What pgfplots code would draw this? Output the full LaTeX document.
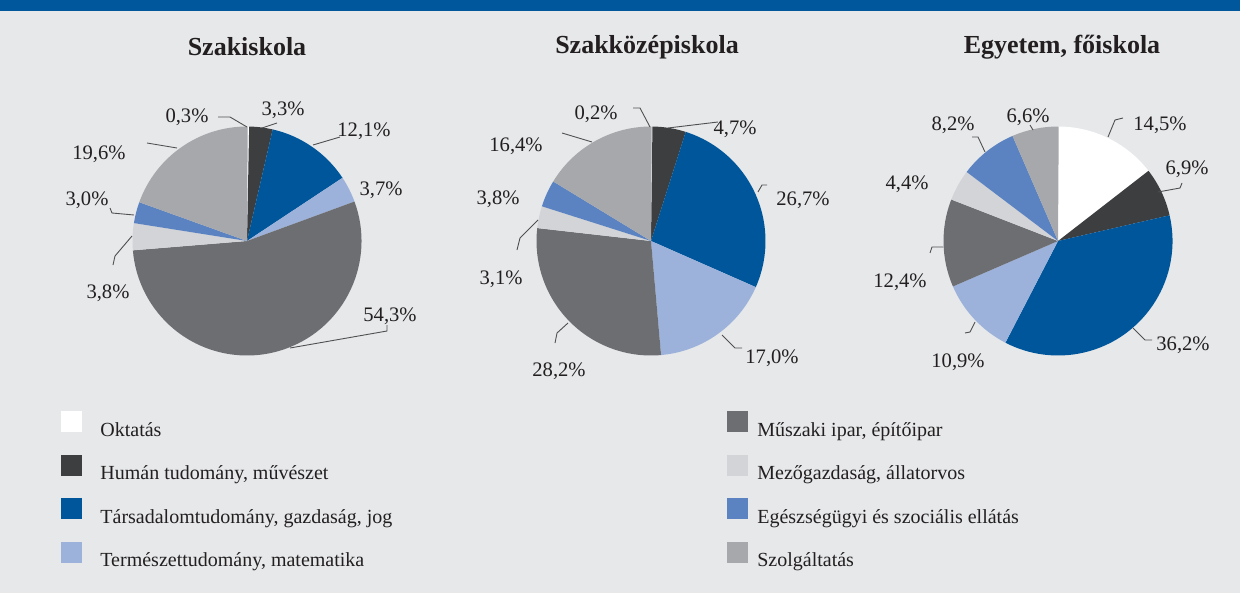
\documentclass[border=0pt]{standalone}
\usepackage{pgfplots}
\usepackage{pgfplotstable}
\pgfplotsset{compat=1.18}
\usepackage{fontspec}
\setmainfont{Liberation Serif}

\definecolor{bg}{HTML}{E6E8EA}
\definecolor{band}{HTML}{00579B}
\definecolor{cOkt}{HTML}{FFFFFF}
\definecolor{cHum}{HTML}{3D3E40}
\definecolor{cTar}{HTML}{00569B}
\definecolor{cTer}{HTML}{9DB2DA}
\definecolor{cMus}{HTML}{6C6E71}
\definecolor{cMez}{HTML}{D2D4D7}
\definecolor{cEgs}{HTML}{5B82C1}
\definecolor{cSzo}{HTML}{A6A8AB}
\definecolor{txt}{HTML}{231F20}
\definecolor{lead}{HTML}{505050}

% rows: Oktatás, Humán, Társadalom, Természet, Műszaki, Mezőgazd., Egészségügy, Szolgáltatás
% val = share in %, (lx,ly) = label centre in px, p1..p3 = leader line in px, ld = leader drawn
\pgfplotstableread{
val   lx   ly  p1x p1y p2x p2y p3x p3y ld
0.3  187  117  247 127 230 117 218 117 1
3.3  283  110  262 128 277 123 277 123 1
12.1 364  131  313 145 340 137 340 137 1
3.7  381  190  0   0   0   0   0   0   0
54.3 390  316  290 348 387 331 387 325 1
3.8  108  293  132 236 115 256 113 265 1
3.0   87  200  134 215 112 213 110 208 1
19.6  99  154  177 148 147 143 147 143 1
}\pieA
\pgfplotstableread{
val   lx   ly  p1x p1y p2x p2y p3x p3y ld
0.2  596  114  650 127 640 108 633 108 1
4.7  735  129  668 128 718 122 718 122 1
26.7 803  200  758 192 762 185 767 185 1
17.0 772  358  722 335 735 348 742 348 1
28.2 559  371  568 323 557 333 555 343 1
3.1  501  279  538 220 520 238 517 250 1
3.8  498  199  0   0   0   0   0   0   0
16.4 516  146  592 142 562 133 562 133 1
}\pieB
\pgfplotstableread{
val   lx   ly  p1x  p1y p2x  p2y p3x  p3y ld
14.5 1160 125  1108 137 1115 120 1123 118 1
6.9  1187 169  1158 192 1180 188 1182 183 1
36.2 1183 345  1133 328 1145 340 1152 340 1
10.9  958 362   975 322  970 332  965 333 1
12.4  900 282   943 247  932 247  930 253 1
4.4   907 184     0   0    0   0    0   0 0
8.2   953 125   985 152  978 137  972 137 1
6.6  1028 117  1033 130 1030 125 1030 125 1
}\pieC

\newcommand\drawpie[3]{% table, centre x, centre y (px)
  \def\cum{90}%
  \pgfplotsforeachungrouped \i in {0,...,7}{%
    \pgfplotstablegetelem{\i}{val}\of{#1}\let\v\pgfplotsretval
    \pgfmathsetmacro\aS{\cum}%
    \pgfmathsetmacro\aE{\cum-3.6*\v}%
    \pgfmathsetmacro\ex{#2+114.5*cos(\aS)}%
    \pgfmathsetmacro\ey{#3-114.5*sin(\aS)}%
    \edef\cn{\ifcase\i cOkt\or cHum\or cTar\or cTer\or cMus\or cMez\or cEgs\or cSzo\fi}%
    \edef\doit{\noexpand\fill[\cn] (axis cs:#2,#3) -- (axis cs:\ex,\ey)
      arc[start angle=\aS, end angle=\aE, radius=57.25pt] -- cycle;}%
    \doit
    \let\cum\aE
  }%
  \pgfplotsforeachungrouped \i in {0,...,7}{%
    \pgfplotstablegetelem{\i}{val}\of{#1}\let\v\pgfplotsretval
    \pgfplotstablegetelem{\i}{lx}\of{#1}\let\lx\pgfplotsretval
    \pgfplotstablegetelem{\i}{ly}\of{#1}\let\ly\pgfplotsretval
    \edef\doit{\noexpand\node[text=txt, font=\noexpand\lab] at (axis cs:\lx,\ly)
      {\noexpand\pgfmathprintnumber[fixed, fixed zerofill, precision=1, use comma,
        assume math mode=true]{\v}\noexpand\%};}%
    \doit
    \pgfplotstablegetelem{\i}{ld}\of{#1}\let\ld\pgfplotsretval
    \ifnum\ld=1
      \pgfplotstablegetelem{\i}{p1x}\of{#1}\let\ax\pgfplotsretval
      \pgfplotstablegetelem{\i}{p1y}\of{#1}\let\ay\pgfplotsretval
      \pgfplotstablegetelem{\i}{p2x}\of{#1}\let\bx\pgfplotsretval
      \pgfplotstablegetelem{\i}{p2y}\of{#1}\let\by\pgfplotsretval
      \pgfplotstablegetelem{\i}{p3x}\of{#1}\let\qx\pgfplotsretval
      \pgfplotstablegetelem{\i}{p3y}\of{#1}\let\qy\pgfplotsretval
      \edef\doit{\noexpand\draw[lead, line width=0.45pt] (axis cs:\ax,\ay) -- (axis cs:\bx,\by) -- (axis cs:\qx,\qy);}%
      \doit
    \fi
  }%
}
\newcommand\lab{\fontsize{10.3}{12}\selectfont}
\newcommand\ttl{\fontsize{13}{15}\selectfont\bfseries}

\begin{document}
\begin{tikzpicture}
\begin{axis}[
  x=0.5pt, y=0.5pt,
  xmin=0, xmax=1240, ymin=0, ymax=593,
  y dir=reverse,
  hide axis,
  clip=false,
  legend columns=2,
  legend cell align=left,
  legend image code/.code={\fill[#1, draw=none] (0pt,2pt) rectangle (10.5pt,12.5pt);
                           \path[draw=none, fill=none] (0pt,-3pt) rectangle (0.1pt,12.5pt);},
  legend style={at={(axis cs:61,411)}, anchor=north west, draw=none, fill=none,
    font=\fontsize{10}{12}\selectfont, text=txt, inner sep=0pt,
    nodes={inner sep=0pt}, cells={anchor=base west}, row sep=6.25pt,
    /tikz/column 1/.style={column sep=9pt},
    /tikz/column 2/.style={column sep=167.5pt},
    /tikz/column 3/.style={column sep=4.5pt}},
]
  \fill[bg] (axis cs:0,0) rectangle (axis cs:1240,593);
  \fill[band] (axis cs:0,0) rectangle (axis cs:1240,11);

  \node[text=txt, font=\ttl] at (axis cs:247,47) {Szakiskola};
  \node[text=txt, font=\ttl] at (axis cs:647,47) {Szakközépiskola};
  \node[text=txt, font=\ttl] at (axis cs:1062,47) {Egyetem, főiskola};

  \drawpie{\pieA}{247}{241}
  \drawpie{\pieB}{651}{241}
  \drawpie{\pieC}{1058}{241}

  \addlegendimage{fill=cOkt}\addlegendentry{Oktatás}
  \addlegendimage{fill=cMus}\addlegendentry{Műszaki ipar, építőipar}
  \addlegendimage{fill=cHum}\addlegendentry{Humán tudomány, művészet}
  \addlegendimage{fill=cMez}\addlegendentry{Mezőgazdaság, állatorvos}
  \addlegendimage{fill=cTar}\addlegendentry{Társadalomtudomány, gazdaság, jog}
  \addlegendimage{fill=cEgs}\addlegendentry{Egészségügyi és szociális ellátás}
  \addlegendimage{fill=cTer}\addlegendentry{Természettudomány, matematika}
  \addlegendimage{fill=cSzo}\addlegendentry{Szolgáltatás}
\end{axis}
\end{tikzpicture}
\end{document}
